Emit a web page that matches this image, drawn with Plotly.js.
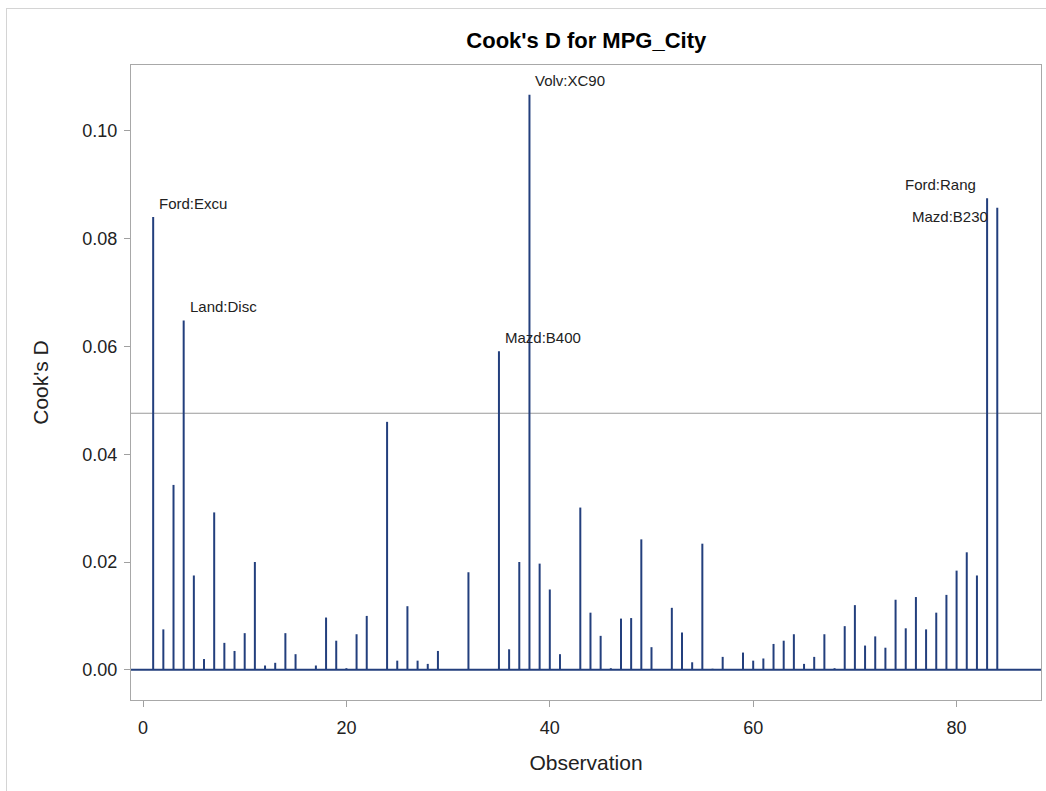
<!DOCTYPE html>
<html>
<head>
<meta charset="utf-8">
<script src="https://cdn.plot.ly/plotly-3.0.1.min.js"></script>
<style>
  html, body { margin: 0; padding: 0; background: #fff; }
  #wrap { position: relative; width: 1046px; height: 791px; overflow: hidden; }
  #frame { position: absolute; left: 6px; top: 8px; width: 1100px; height: 900px; border: 1px solid #d4d4d4; pointer-events: none; }
  #plot { position: absolute; left: 0; top: 0; width: 1046px; height: 791px; }
</style>
</head>
<body>
<div id="wrap">
  <div id="plot"></div>
  <div id="frame"></div>
</div>
<script>
// Observation numbers (1..84)
const observations = [
  1,2,3,4,5,6,7,8,9,10,11,12,13,14,15,16,17,18,19,20,
  21,22,23,24,25,26,27,28,29,30,31,32,33,34,35,36,37,38,39,40,
  41,42,43,44,45,46,47,48,49,50,51,52,53,54,55,56,57,58,59,60,
  61,62,63,64,65,66,67,68,69,70,71,72,73,74,75,76,77,78,79,80,
  81,82,83,84
];
// Cook's D values
const cooksD = [
  0.0840,0.0075,0.0343,0.0648,0.0175,0.0020,0.0292,0.0050,0.0035,0.0068,
  0.0200,0.0008,0.0013,0.0068,0.0029,0.0000,0.0008,0.0097,0.0054,0.0003,
  0.0066,0.0100,0.0000,0.0460,0.0017,0.0118,0.0017,0.0011,0.0035,0.0000,
  0.0000,0.0181,0.0000,0.0000,0.0591,0.0038,0.0200,0.1067,0.0197,0.0149,
  0.0029,0.0000,0.0301,0.0106,0.0063,0.0003,0.0095,0.0096,0.0242,0.0042,
  0.0000,0.0115,0.0069,0.0014,0.0234,0.0002,0.0024,0.0000,0.0032,0.0017,
  0.0021,0.0048,0.0054,0.0066,0.0011,0.0024,0.0066,0.0003,0.0081,0.0120,
  0.0045,0.0062,0.0041,0.0130,0.0077,0.0135,0.0075,0.0106,0.0139,0.0184,
  0.0218,0.0175,0.0875,0.0857
];
// Cutoff 4/n
const cutoff = 0.0476;
// Labelled influential observations
const labelObs  = [1, 4, 35, 38, 83, 84];
const labelText = ["Ford:Excu", "Land:Disc", "Mazd:B400", "Volv:XC90", "Ford:Rang", "Mazd:B230"];
const labelSide = ["right", "right", "right", "right", "left", "left"];

const xTickVals = [0, 20, 40, 60, 80];

// Build needle segments from the data
const nx = [], ny = [];
observations.forEach((o, i) => {
  nx.push(o, o, null);
  ny.push(0, cooksD[i], null);
});

const needleColor = "#233f7d";
const font = "Liberation Sans, Arial, sans-serif";

const annotations = labelObs.map((o, k) => {
  const v = cooksD[observations.indexOf(o)];
  const right = labelSide[k] === "right";
  return {
    x: o, y: v, xref: "x", yref: "y",
    text: labelText[k], showarrow: false,
    xanchor: right ? "left" : "right", yanchor: "middle",
    xshift: right ? 4 : (k === 5 ? -7 : -9),
    yshift: right ? 14 : (k === 5 ? -9 : 14),
    font: { family: font, size: 15, color: "#222" }
  };
});

const traces = [{
  x: nx, y: ny, type: "scatter", mode: "lines",
  line: { color: needleColor, width: 2 },
  hoverinfo: "skip", showlegend: false
}];

const layout = {
  width: 1046, height: 791,
  margin: { l: 131, r: 5, t: 65, b: 91 },
  paper_bgcolor: "#fff", plot_bgcolor: "#fff",
  showlegend: false,
  title: {
    text: "<b>Cook's D for MPG_City</b>",
    x: 0.5605, xanchor: "center", y: 0.949, yanchor: "middle",
    font: { family: font, size: 22, color: "#000" }
  },
  xaxis: {
    range: [-1.18, 88.3],
    tickvals: xTickVals,
    ticks: "outside", ticklen: 6, tickcolor: "#a0a0a0",
    ticklabelstandoff: 5,
    showgrid: false, zeroline: false,
    showline: true, linecolor: "#a8a8a8", linewidth: 1, mirror: true,
    tickfont: { family: font, size: 18, color: "#222" },
    title: { text: "Observation", font: { family: font, size: 21, color: "#222" }, standoff: 18 }
  },
  yaxis: {
    range: [-0.0056, 0.1122],
    dtick: 0.02, tick0: 0, tickformat: ".2f",
    ticks: "outside", ticklen: 6, tickcolor: "#a0a0a0",
    ticklabelstandoff: 3,
    showgrid: false, zeroline: false,
    showline: true, linecolor: "#a8a8a8", linewidth: 1, mirror: true,
    tickfont: { family: font, size: 18, color: "#222" },
    title: { text: "Cook's D", font: { family: font, size: 21, color: "#222" }, standoff: 28 }
  },
  shapes: [
    { type: "line", xref: "paper", x0: 0, x1: 1, yref: "y", y0: cutoff, y1: cutoff,
      line: { color: "#9a9a9a", width: 1.2 }, layer: "below" },
    { type: "line", xref: "paper", x0: 0, x1: 1, yref: "y", y0: 0, y1: 0,
      line: { color: needleColor, width: 2 }, layer: "above" }
  ],
  annotations: annotations
};

Plotly.newPlot("plot", traces, layout, { displayModeBar: false, staticPlot: true });
</script>
</body>
</html>
